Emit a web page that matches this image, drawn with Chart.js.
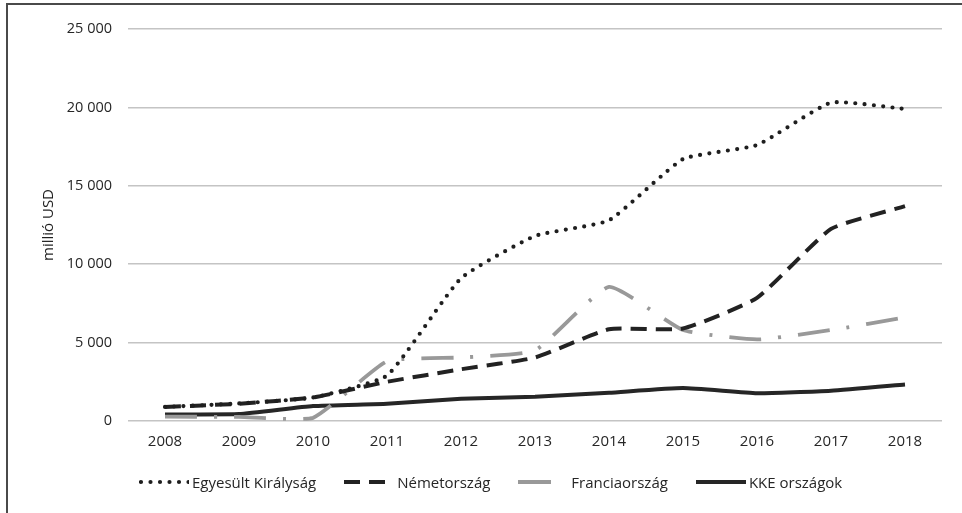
<!DOCTYPE html>
<html>
<head>
<meta charset="utf-8">
<script src="https://cdn.jsdelivr.net/npm/chart.js@4.4.1/dist/chart.umd.min.js"></script>
<style>
  html, body { margin: 0; padding: 0; background: #fff; }
  #wrap { position: relative; width: 962px; height: 513px; overflow: hidden; }
  #frame { position: absolute; left: 6px; top: 3px; width: 1000px; height: 600px;
           border-left: 2px solid #4a4a4a; border-top: 2px solid #4a4a4a; pointer-events: none; }
  #legend { position: absolute; left: 139px; top: 472px; display: flex; align-items: center;
            font-family: "Open Sans", sans-serif; font-size: 15px; color: #262626; }
  .item { display: flex; align-items: center; margin-right: 28px; }
  .item svg { margin-right: 3px; }
</style>
</head>
<body>
<div id="wrap">
  <canvas id="fdiChart" width="962" height="513"></canvas>
  <div id="legend"></div>
  <div id="frame"></div>
</div>
<script>
  // years on the x axis
  const years = ['2008', '2009', '2010', '2011', '2012', '2013', '2014', '2015', '2016', '2017', '2018'];

  // millió USD
  const ukValues = [900, 1120, 1500, 2900, 9100, 11800, 12800, 16700, 17600, 20300, 19900];
  const germanyValues = [900, 1100, 1500, 2500, 3300, 4050, 5850, 5900, 7850, 12250, 13700];
  const franceValues = [280, 260, 200, 3800, 4050, 4500, 8550, 5800, 5200, 5800, 6600];
  const cseValues = [420, 440, 950, 1100, 1420, 1550, 1800, 2100, 1770, 1930, 2330];

  const seriesNames = ['Egyesült Királyság', 'Németország', 'Franciaország', 'KKE országok'];

  function fmt(v) {
    return String(v).replace(/\B(?=(\d{3})+(?!\d))/g, ' ');
  }

  const datasets = [
    {
      label: seriesNames[0],
      data: ukValues,
      borderColor: '#1e1e1e',
      borderWidth: 4.2,
      borderDash: [0, 9.3],
      borderCapStyle: 'round',
      legendDash: '0 9.5',
      legendCap: 'round'
    },
    {
      label: seriesNames[1],
      data: germanyValues,
      borderColor: '#222',
      borderWidth: 4,
      borderDash: [16, 9],
      borderCapStyle: 'butt',
      legendDash: '16 9',
      legendCap: 'butt'
    },
    {
      label: seriesNames[2],
      data: franceValues,
      borderColor: '#999',
      borderWidth: 3.8,
      borderDash: [32, 17, 3, 17],
      borderCapStyle: 'butt',
      legendDash: '33 20',
      legendCap: 'butt'
    },
    {
      label: seriesNames[3],
      data: cseValues,
      borderColor: '#262626',
      borderWidth: 4,
      borderDash: [],
      borderCapStyle: 'butt',
      legendDash: 'none',
      legendCap: 'butt'
    }
  ];

  datasets.forEach(d => {
    d.fill = false;
    d.pointRadius = 0;
    d.tension = 0.15;
  });

  const tickFont = { family: 'Open Sans', size: 15 };

  const ctx = document.getElementById('fdiChart').getContext('2d');
  const fdiChart = new Chart(ctx, {
    type: 'line',
    data: { labels: years, datasets: datasets },
    options: {
      responsive: false,
      animation: false,
      layout: { padding: { left: 0, right: 20, top: 29, bottom: 0 } },
      plugins: { legend: { display: false }, tooltip: { enabled: false } },
      scales: {
        x: {
          type: 'category',
          offset: true,
          grid: { display: false, drawTicks: false },
          border: { display: false },
          ticks: { color: '#262626', padding: 12, font: tickFont },
          afterFit: scale => { scale.height = 92; }
        },
        y: {
          min: 0,
          max: 25000,
          ticks: {
            stepSize: 5000,
            color: '#262626',
            padding: 16,
            font: { family: 'Open Sans', size: 14.5 },
            callback: v => fmt(v)
          },
          grid: { color: '#c4c4c4', lineWidth: 1.5, drawTicks: false },
          border: { display: false },
          title: {
            display: true,
            text: 'millió USD',
            color: '#1e1e1e',
            padding: { top: 40, bottom: 0 },
            font: { family: 'Open Sans', size: 15 }
          },
          afterFit: scale => { scale.width = 128; }
        }
      }
    }
  });

  // legend below the chart, built from the datasets
  const legend = document.getElementById('legend');
  datasets.forEach(d => {
    const item = document.createElement('div');
    item.className = 'item';
    const dash = d.legendDash === 'none' ? '' : ' stroke-dasharray="' + d.legendDash + '"';
    const x1 = d.legendCap === 'round' ? 2 : 0;
    item.innerHTML =
      '<svg width="50" height="10"><line x1="' + x1 + '" y1="5" x2="50" y2="5" stroke="' + d.borderColor +
      '" stroke-width="' + d.borderWidth + '" stroke-linecap="' + d.legendCap + '"' + dash + '/></svg>' +
      '<span>' + d.label + '</span>';
    legend.appendChild(item);
  });
</script>
</body>
</html>
